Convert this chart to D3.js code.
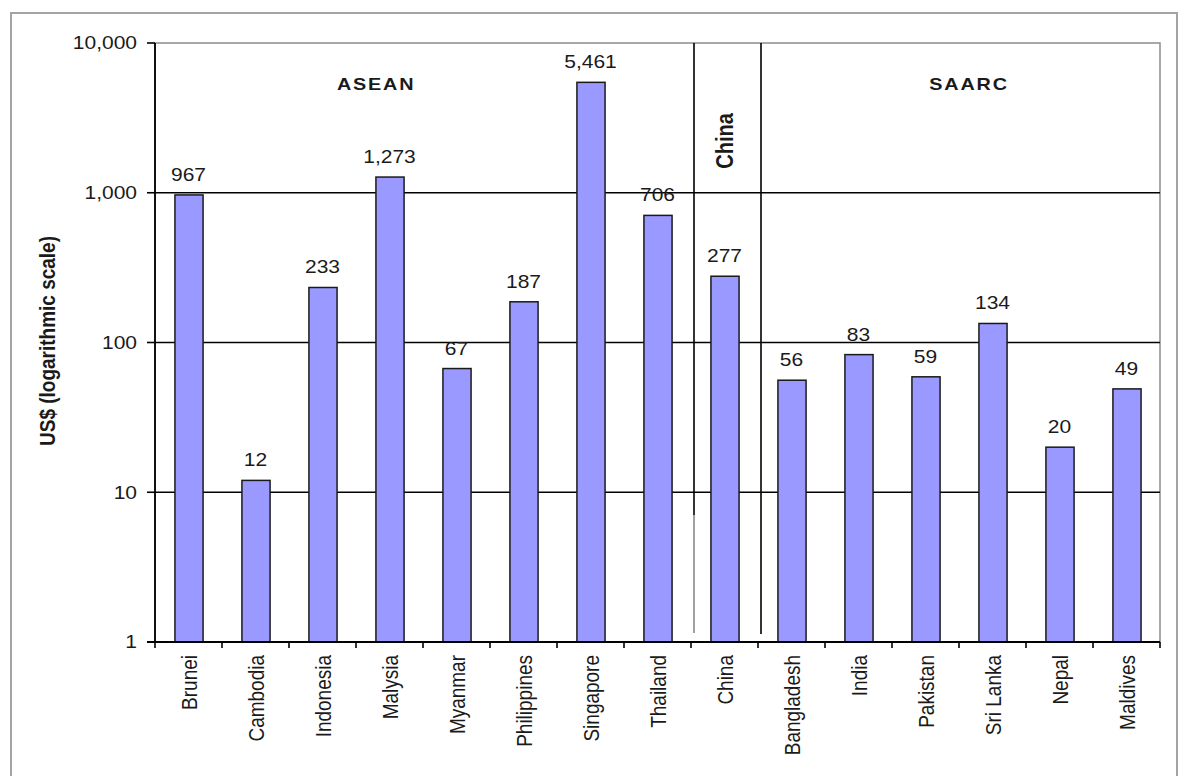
<!DOCTYPE html>
<html>
<head>
<meta charset="utf-8">
<script src="https://cdn.jsdelivr.net/npm/d3@7"></script>
<style>
  html, body { margin: 0; padding: 0; background: #fff; }
  svg { display: block; }
  text { font-family: "Liberation Sans", Arial, sans-serif; fill: #1a1a1a; }
</style>
</head>
<body>
<svg id="chart" width="1183" height="776"></svg>
<script>
// Per-capita figures, US$ (log scale)
const countries = ["Brunei", "Cambodia", "Indonesia", "Malysia", "Myanmar", "Philippines", "Singapore", "Thailand",
                   "China",
                   "Bangladesh", "India", "Pakistan", "Sri Lanka", "Nepal", "Maldives"];
const values = [967, 12, 233, 1273, 67, 187, 5461, 706, 277, 56, 83, 59, 134, 20, 49];
const yTicks = [1, 10, 100, 1000, 10000];
const groupNames = ["ASEAN", "China", "SAARC"];
const groupStarts = ["Brunei", "China", "Bangladesh"];

const svg = d3.select("#chart");
const M = { left: 155, right: 1160, top: 43, bottom: 642 };
const SX = 1.2; // horizontal glyph stretch

const x = d3.scaleBand().domain(countries).range([M.left, M.right]).paddingInner(0).paddingOuter(0);
const y = d3.scaleLog().domain([1, 10000]).range([M.bottom, M.top]);
const bw = x.bandwidth();
const fmt = d3.format(",");

// outer frame
svg.append("rect").attr("x", 11).attr("y", 13).attr("width", 1166).attr("height", 800)
  .attr("fill", "#fff").attr("stroke", "#a3a3a3").attr("stroke-width", 2);

// plot area border
svg.append("rect").attr("x", M.left).attr("y", M.top)
  .attr("width", M.right - M.left).attr("height", M.bottom - M.top)
  .attr("fill", "none").attr("stroke", "#8c8c8c").attr("stroke-width", 1.5);

// gridlines
svg.append("g").selectAll("line").data(yTicks.filter(d => d > 1 && d < 10000)).join("line")
  .attr("x1", M.left).attr("x2", M.right)
  .attr("y1", d => y(d)).attr("y2", d => y(d))
  .attr("stroke", "#000").attr("stroke-width", 1.6);

// group separators
const sepX = groupStarts.slice(1).map(c => x(c) + 3);
svg.append("line").attr("x1", sepX[0]).attr("x2", sepX[0]).attr("y1", M.top).attr("y2", 515)
  .attr("stroke", "#000").attr("stroke-width", 1.6);
svg.append("line").attr("x1", sepX[0]).attr("x2", sepX[0]).attr("y1", 515).attr("y2", 633)
  .attr("stroke", "#8a8a8a").attr("stroke-width", 1.6);
svg.append("line").attr("x1", sepX[1]).attr("x2", sepX[1]).attr("y1", M.top).attr("y2", 634)
  .attr("stroke", "#000").attr("stroke-width", 1.6);

// bars
const barW = bw * 0.42;
svg.append("g").selectAll("rect").data(countries).join("rect")
  .attr("x", d => x(d) + bw / 2 - barW / 2 + 0.5)
  .attr("width", barW)
  .attr("y", (d, i) => y(values[i]))
  .attr("height", (d, i) => M.bottom - y(values[i]))
  .attr("fill", "#9999ff").attr("stroke", "#1a1a1a").attr("stroke-width", 1.5);

// axes
const axis = svg.append("g");
axis.append("line").attr("x1", M.left).attr("x2", M.left).attr("y1", M.top).attr("y2", M.bottom)
  .attr("stroke", "#000").attr("stroke-width", 1.8);
axis.append("line").attr("x1", M.left - 8).attr("x2", M.right).attr("y1", M.bottom).attr("y2", M.bottom)
  .attr("stroke", "#000").attr("stroke-width", 1.8);
axis.selectAll(".yt").data(yTicks).join("line").attr("class", "yt")
  .attr("x1", M.left - 8).attr("x2", M.left).attr("y1", d => y(d)).attr("y2", d => y(d))
  .attr("stroke", "#000").attr("stroke-width", 1.6);
axis.selectAll(".xt").data(countries.concat([null])).join("line").attr("class", "xt")
  .attr("x1", (d, i) => M.left + i * bw).attr("x2", (d, i) => M.left + i * bw)
  .attr("y1", M.bottom).attr("y2", M.bottom + 6)
  .attr("stroke", "#000").attr("stroke-width", 1.6);

// helper: horizontally stretched text
function stext(g, tx, ty, str, opts = {}) {
  const rot = opts.rotate ? ` rotate(${opts.rotate})` : "";
  return g.append("text")
    .attr("transform", `translate(${tx},${ty}) scale(${SX},1)${rot}`)
    .attr("text-anchor", opts.anchor || "middle")
    .attr("dy", opts.dy || 0)
    .attr("font-size", opts.size || 17.5)
    .attr("font-weight", opts.weight || "normal")
    .attr("letter-spacing", opts.ls || 0)
    .text(str);
}

// y tick labels
const labels = svg.append("g");
yTicks.forEach(t => stext(labels, 137, y(t), fmt(t), { anchor: "end", dy: "0.36em" }));

// value labels
countries.forEach((c, i) => stext(labels, x(c) + bw / 2, y(values[i]) - 14, fmt(values[i])));

// category labels
countries.forEach(c => stext(labels, x(c) + bw / 2, 655, c, { rotate: -90, anchor: "end", dy: "0.36em", size: 19 }));

// group labels
stext(labels, M.left + 3.3 * bw, 90, groupNames[0], { weight: "bold", size: 16.5, ls: 1.5 });
stext(labels, M.left + 12.15 * bw, 90, groupNames[2], { weight: "bold", size: 16.5, ls: 1.5 });
stext(labels, x("China") + bw / 2, 141, groupNames[1], { rotate: -90, weight: "bold", size: 20, dy: "0.36em" });

// y axis title
stext(labels, 47, 341, "US$ (logarithmic scale)", { rotate: -90, weight: "bold", size: 19, dy: "0.36em" });
</script>
</body>
</html>
